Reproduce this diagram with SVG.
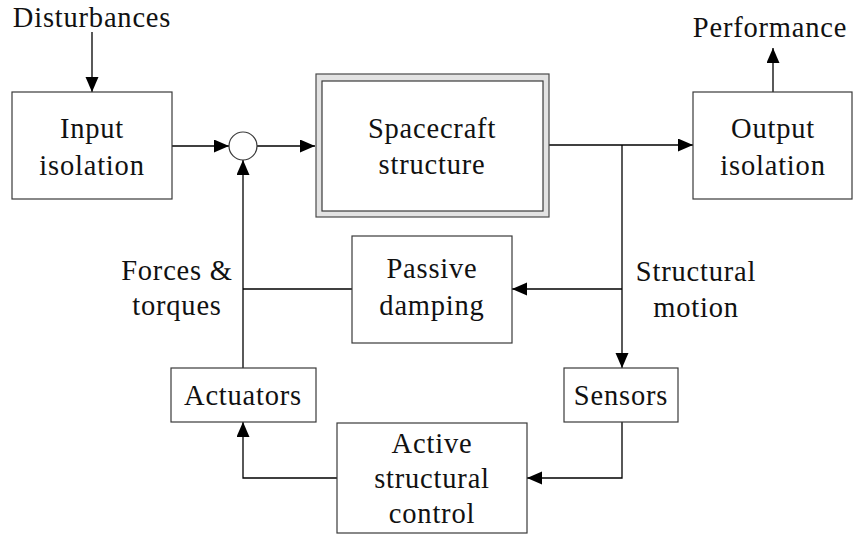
<svg xmlns="http://www.w3.org/2000/svg" width="853" height="535" viewBox="0 0 853 535">
<style>
  .box { fill: #ffffff; stroke: #3a3a3a; stroke-width: 1.2; }
  .outer { fill: #e3e3e3; stroke: #4a4a4a; stroke-width: 1.2; }
  .line { fill: none; stroke: #000000; stroke-width: 1.3; }
  .arr { marker-end: url(#ah); }
  .t { font-family: 'Times New Roman', Times, 'Liberation Serif', 'Nimbus Roman', FreeSerif, serif; font-size: 28.5px; letter-spacing: 0.8px; fill: #111111; text-anchor: middle; }
</style>
<defs>
  <marker id="ah" markerUnits="userSpaceOnUse" markerWidth="16" markerHeight="14" refX="15" refY="6.5" orient="auto">
    <path d="M0,0 L15,6.5 L0,13 Z" fill="#000000"/>
  </marker>
</defs>
<rect width="853" height="535" fill="#ffffff"/>

<g id="connectors">
  <line class="line arr" x1="92" y1="32" x2="92" y2="92"/>
  <line class="line arr" x1="172" y1="146" x2="229" y2="146"/>
  <line class="line arr" x1="257" y1="146" x2="315" y2="146"/>
  <line class="line arr" x1="243" y1="368" x2="243" y2="160"/>
  <line class="line" x1="352" y1="289" x2="243" y2="289"/>
  <line class="line arr" x1="549" y1="145" x2="693" y2="145"/>
  <line class="line arr" x1="622" y1="145" x2="622" y2="368"/>
  <line class="line arr" x1="622" y1="289" x2="512" y2="289"/>
  <line class="line arr" x1="773" y1="92" x2="773" y2="48"/>
  <polyline class="line arr" points="622,422 622,478 527,478"/>
  <polyline class="line arr" points="337,478 243,478 243,422"/>
</g>

<g id="disturbances">
  <text class="t" x="92" y="27">Disturbances</text>
</g>
<g id="performance">
  <text class="t" x="770" y="37">Performance</text>
</g>

<g id="input-isolation">
  <rect class="box" x="12" y="92" width="160" height="107"/>
  <text class="t" x="92" y="138">Input</text>
  <text class="t" x="92" y="175">isolation</text>
</g>

<g id="sum">
  <circle class="box" cx="243" cy="146" r="14"/>
</g>

<g id="spacecraft-structure">
  <rect class="outer" x="316" y="74" width="233" height="143"/>
  <rect class="box" x="322" y="81" width="221" height="130"/>
  <text class="t" x="432" y="138">Spacecraft</text>
  <text class="t" x="432" y="174">structure</text>
</g>

<g id="output-isolation">
  <rect class="box" x="693" y="92" width="159" height="107"/>
  <text class="t" x="773" y="138">Output</text>
  <text class="t" x="773" y="175">isolation</text>
</g>

<g id="passive-damping">
  <rect class="box" x="352" y="236" width="160" height="107"/>
  <text class="t" x="432" y="278">Passive</text>
  <text class="t" x="432" y="315">damping</text>
</g>

<g id="forces-torques">
  <text class="t" x="177" y="280">Forces &amp;</text>
  <text class="t" x="177" y="315">torques</text>
</g>

<g id="structural-motion">
  <text class="t" x="696" y="281">Structural</text>
  <text class="t" x="696" y="317">motion</text>
</g>

<g id="actuators">
  <rect class="box" x="171" y="368" width="145" height="54"/>
  <text class="t" x="243" y="405">Actuators</text>
</g>

<g id="sensors">
  <rect class="box" x="564" y="368" width="114" height="54"/>
  <text class="t" x="621" y="405">Sensors</text>
</g>

<g id="active-structural-control">
  <rect class="box" x="337" y="423" width="190" height="110"/>
  <text class="t" x="432" y="453">Active</text>
  <text class="t" x="432" y="488">structural</text>
  <text class="t" x="432" y="523">control</text>
</g>
</svg>
